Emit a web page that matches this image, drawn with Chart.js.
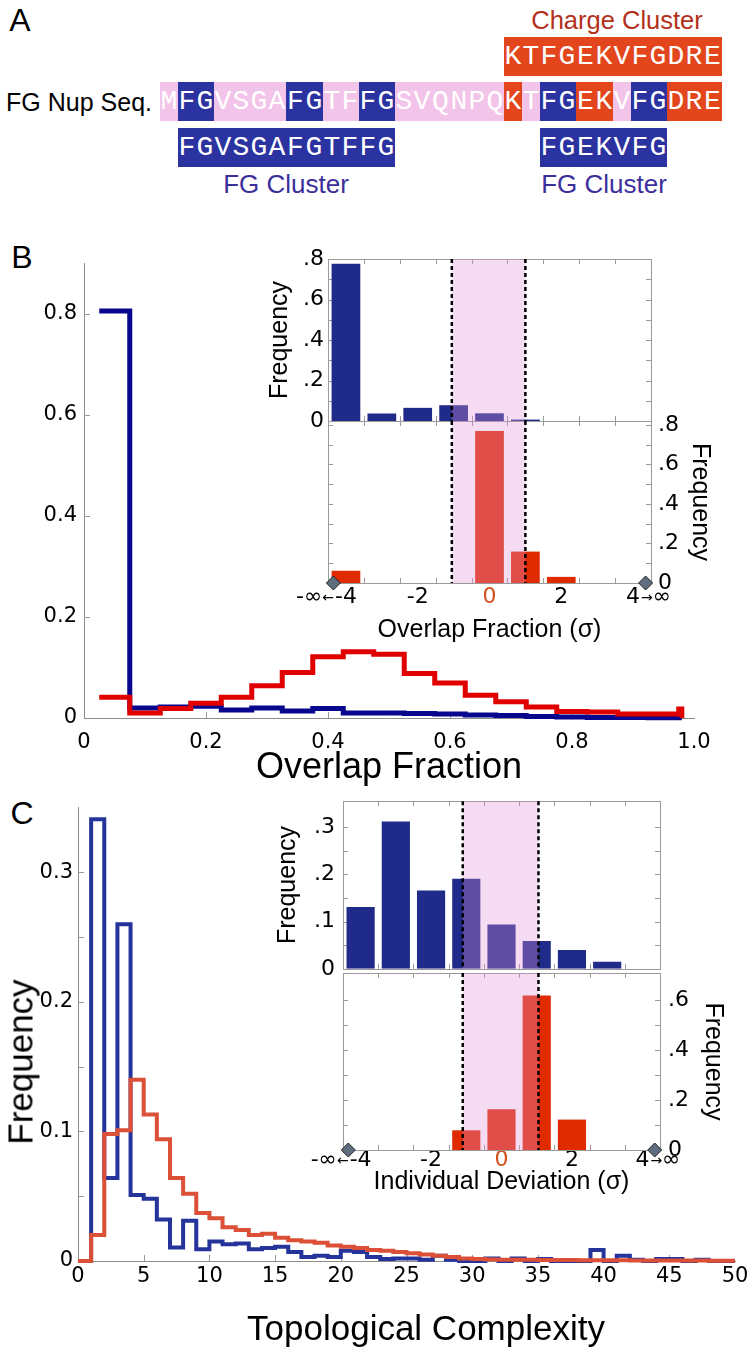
<!DOCTYPE html>
<html>
<head>
<meta charset="utf-8">
<script src="https://cdn.jsdelivr.net/npm/chart.js"></script>
<style>
  body { margin: 0; background: #fff; }
  #fig { position: relative; width: 754px; height: 1354px; overflow: hidden; background: #fff;
         font-family: "Liberation Sans", Arial, sans-serif; color: #000; }
  canvas { position: absolute; }
  .cell { position: absolute; height: 39px; line-height: 39px; color: #fff; text-align: center;
          font-family: "Liberation Mono", monospace; font-size: 28px; }
  .txt { position: absolute; white-space: nowrap; line-height: 1; }
</style>
</head>
<body>
<div id="fig"></div>
<script>
// ---------- panel A: sequence ----------
const seq = "MFGVSGAFGTFFGSVQNPQKTFGEKVFGDRE";
const seqCode = "pbbppppbbppbbppppppr" + "pbbrrpbbrrr"; // p = plain, b = FG, r = charged

// ---------- panel B: overlap fraction ----------
const overlapEdges = [0.025, 0.075, 0.125, 0.175, 0.225, 0.275, 0.325, 0.375, 0.425, 0.475, 0.525,
  0.575, 0.625, 0.675, 0.725, 0.775, 0.825, 0.875, 0.925, 0.975, 0.98];
const fgOverlap = [0.805, 0.020, 0.022, 0.023, 0.016, 0.020, 0.014, 0.019, 0.010, 0.010,
  0.009, 0.008, 0.006, 0.005, 0.003, 0.002, 0.001, 0.001, 0.0005, 0.0005];
const chargeOverlap = [0.041, 0.010, 0.019, 0.029, 0.041, 0.064, 0.090, 0.121, 0.131, 0.126,
  0.088, 0.069, 0.045, 0.032, 0.022, 0.013, 0.012, 0.008, 0.008, 0.018];
const overlapTicks = [0, 0.2, 0.4, 0.6, 0.8, 1.0];
const overlapTickLabels = ["0", "0.2", "0.4", "0.6", "0.8", "1.0"];
const freqTicksB = [0, 0.2, 0.4, 0.6, 0.8];
const freqLabelsB = ["0", "0.2", "0.4", "0.6", "0.8"];

// inset B (overlap fraction in sigma units)
const sigmaBins = [-4, -3, -2, -1, 0, 1, 2, 3, 4];
const sigmaTickLabels = ["-4", "", "-2", "", "0", "", "2", "", "4"];
const sigmaEdgeMarks = [-3.5, -2.5, -1.5, -0.5, 0.5, 1.5, 2.5, 3.5];
const diamondX = [-4.35, 4.35];
const fgOverlapSigma = [0.777, 0.037, 0.065, 0.078, 0.038, 0.007, 0, 0, 0];
const chargeOverlapSigma = [0.062, 0, 0, 0, 0.77, 0.159, 0.031, 0, 0];
const overlapBand = [-1.05, 1.0];
const insetTicks08 = [0, 0.2, 0.4, 0.6, 0.8];
const insetLabels08 = ["0", ".2", ".4", ".6", ".8"];
const insetMarks08 = [0.1, 0.2, 0.3, 0.4, 0.5, 0.6, 0.7, 0.8];

// ---------- panel C: topological complexity ----------
const complexityEdges = Array.from({ length: 51 }, (_, i) => i);
const fgComplexity = [0, 0.341, 0.064, 0.260, 0.051, 0.048, 0.032, 0.0105, 0.031, 0.009,
  0.015, 0.013, 0.0135, 0.009, 0.010, 0.011, 0.007, 0.003, 0.004, 0.003,
  0.008, 0.007, 0.003, 0.0015, 0.002, 0.002, 0.001, 0.004, 0.001, 0,
  0, 0.002, 0, 0.002, 0, 0.0015, 0, 0, 0, 0.0085,
  0, 0.004, 0.001, 0, 0.0015, 0.0015, 0, 0.001, 0, 0];
const chargeComplexity = [0, 0.020, 0.098, 0.101, 0.140, 0.113, 0.094, 0.064, 0.052, 0.037,
  0.033, 0.026, 0.024, 0.020, 0.021, 0.018, 0.016, 0.015, 0.014, 0.012,
  0.011, 0.010, 0.0085, 0.008, 0.007, 0.006, 0.005, 0.004, 0.003, 0.002,
  0.0015, 0.0012, 0.001, 0.001, 0.0009, 0.0008, 0.0008, 0.0007, 0.0006, 0.0006,
  0.0005, 0.0005, 0.0004, 0.0004, 0.0004, 0.0003, 0.0003, 0.0003, 0.0002, 0.0002];
const complexityTicks = [0, 5, 10, 15, 20, 25, 30, 35, 40, 45, 50];
const complexityTickLabels = ["0", "5", "10", "15", "20", "25", "30", "35", "40", "45", "50"];
const freqTicksC = [0, 0.1, 0.2, 0.3];
const freqLabelsC = ["0", "0.1", "0.2", "0.3"];
const freqMarksC = [0.05, 0.1, 0.15, 0.2, 0.25, 0.3];

// inset C (individual deviation in sigma units)
const fgDeviation = [0.131, 0.312, 0.166, 0.191, 0.094, 0.059, 0.040, 0.015, 0];
const chargeDeviation = [0, 0, 0, 0.079, 0.163, 0.62, 0.122, 0, 0];
const deviationBand = [-1.1, 1.05];
const insetTicks03 = [0, 0.1, 0.2, 0.3];
const insetLabels03 = ["0", ".1", ".2", ".3"];
const insetMarks03 = [0.05, 0.1, 0.15, 0.2, 0.25, 0.3];
const insetTicks06 = [0, 0.2, 0.4, 0.6];
const insetLabels06 = ["0", ".2", ".4", ".6"];
const insetMarks06 = [0.1, 0.2, 0.3, 0.4, 0.5, 0.6];

// colours
const navy = "#1f2a89";
const insetRed = "#e02a00";
const pink = "rgba(227,149,218,0.33)";
const codeColor = { p: "#f3c4ea", b: "#2b33a0", r: "#e3461d" };
const tickFamily = '"DejaVu Sans", Verdana, sans-serif';

const fig = document.getElementById("fig");

// ---------- HTML bits ----------
function label(text, cx, cy, size, color, opts = {}) {
  const d = document.createElement("div");
  d.className = "txt";
  d.textContent = text;
  d.style.left = cx + "px";
  d.style.top = cy + "px";
  d.style.fontSize = size + "px";
  d.style.color = color || "#000";
  const tx = opts.anchor === "right" ? "-100%" : "-50%";
  d.style.transform = `translate(${tx},-50%)` + (opts.rot ? ` rotate(${opts.rot}deg)` : "");
  fig.appendChild(d);
}

const seqLeft = 159.5, seqPitch = 18.13;
const cellX = i => Math.round(seqLeft + i * seqPitch);
function letterRow(from, to, top, fill) {
  for (let i = from; i <= to; i++) {
    const d = document.createElement("div");
    d.className = "cell";
    d.textContent = seq[i];
    d.style.left = cellX(i) + "px";
    d.style.width = cellX(i + 1) - cellX(i) + "px";
    d.style.top = top + "px";
    d.style.background = fill(i);
    fig.appendChild(d);
  }
}
letterRow(19, 30, 37, () => codeColor.r);
letterRow(0, 30, 82, i => codeColor[seqCode[i]]);
letterRow(1, 12, 128, () => codeColor.b);
letterRow(21, 27, 128, () => codeColor.b);

label("A", 20, 20, 32);
label("Charge Cluster", 617, 21, 25.5, "#b3301b");
label("FG Nup Seq.", 152, 102, 25, "#000", { anchor: "right" });
label("FG Cluster", 286, 184, 26, "#3c2f9d");
label("FG Cluster", 604, 184, 26, "#3c2f9d");
label("B", 22, 257, 32);
label("C", 22, 813, 32);

// ---------- chart helpers ----------
Chart.defaults.font.family = '"Liberation Sans", Arial, sans-serif';
Chart.defaults.color = "#000";

function canvasAt(left, top, w, h) {
  const c = document.createElement("canvas");
  c.width = w; c.height = h;
  c.style.left = left + "px"; c.style.top = top + "px";
  c.style.width = w + "px"; c.style.height = h + "px";
  fig.appendChild(c);
  return c;
}
const setTicks = vals => s => { s.ticks = vals.map(v => ({ value: v })); };
const fixWidth = w => s => { s.width = w; };
const fixHeight = h => s => { s.height = h; };
const noPlugins = { legend: { display: false }, tooltip: { enabled: false } };

function stairs(edges, values, color, width, close) {
  const pts = values.map((v, i) => ({ x: edges[i], y: v }));
  pts.push({ x: edges[values.length], y: values[values.length - 1] });
  if (close) pts.push({ x: edges[values.length], y: 0 });
  return { data: pts, borderColor: color, borderWidth: width, stepped: true, pointRadius: 0,
    fill: false, clip: false, borderJoinStyle: "miter", borderCapStyle: "butt" };
}

// frame, inward ticks, pink band, dashed lines, infinity labels
function decor(cfg) {
  const len = cfg.len || 5;
  return {
    id: "decor",
    beforeDatasetsDraw(chart) {
      const { ctx, chartArea: a } = chart, x = chart.scales.x, y = chart.scales.y;
      ctx.save();
      ctx.strokeStyle = "#9a9a9a";
      ctx.lineWidth = 1;
      ctx.beginPath();
      (cfg.xMarks || []).forEach(v => {
        const px = Math.round(x.getPixelForValue(v)) + 0.5;
        ctx.moveTo(px, a.bottom); ctx.lineTo(px, a.bottom - len);
        if (cfg.frame) { ctx.moveTo(px, a.top); ctx.lineTo(px, a.top + len); }
      });
      (cfg.yMarks || []).forEach(v => {
        const py = Math.round(y.getPixelForValue(v)) + 0.5;
        ctx.moveTo(a.left, py); ctx.lineTo(a.left + len, py);
        if (cfg.frame) { ctx.moveTo(a.right, py); ctx.lineTo(a.right - len, py); }
      });
      ctx.stroke();
      if (cfg.frame) {
        ctx.strokeRect(Math.round(a.left) + 0.5, Math.round(a.top) + 0.5,
          Math.round(a.right - a.left), Math.round(a.bottom - a.top));
      }
      ctx.restore();
    },
    afterDatasetsDraw(chart) {
      const { ctx, chartArea: a } = chart, x = chart.scales.x;
      ctx.save();
      if (cfg.band) {
        const x0 = x.getPixelForValue(cfg.band[0]), x1 = x.getPixelForValue(cfg.band[1]);
        ctx.fillStyle = pink;
        ctx.fillRect(x0, a.top, x1 - x0, a.bottom - a.top);
        ctx.strokeStyle = "#000";
        ctx.lineWidth = 2.5;
        ctx.setLineDash([4, 3]);
        [x0, x1].forEach(px => {
          ctx.beginPath(); ctx.moveTo(px, a.top); ctx.lineTo(px, a.bottom); ctx.stroke();
        });
        ctx.setLineDash([]);
      }
      if (cfg.inf) {
        const items = x.getLabelItems();
        const lo = items.find(it => it.label === "-4"), hi = items.find(it => it.label === "4");
        const big = "22px " + tickFamily, small = "14px " + tickFamily;
        ctx.fillStyle = "#000";
        if (lo) {
          ctx.textBaseline = lo.options.textBaseline;
          const ty = lo.options.translation[1] + lo.textOffset;
          ctx.font = big;
          let xr = lo.options.translation[0] - ctx.measureText("-4").width / 2 - 1;
          ctx.font = small; ctx.textAlign = "right";
          ctx.fillText("\u2190", xr, ty + 1);
          xr -= ctx.measureText("\u2190").width;
          ctx.font = big;
          ctx.fillText("-\u221e", xr, ty);
        }
        if (hi) {
          ctx.textBaseline = hi.options.textBaseline;
          const ty = hi.options.translation[1] + hi.textOffset;
          ctx.font = big;
          let xl = hi.options.translation[0] + ctx.measureText("4").width / 2 + 1;
          ctx.font = small; ctx.textAlign = "left";
          ctx.fillText("\u2192", xl, ty + 1);
          xl += ctx.measureText("\u2192").width;
          ctx.font = big;
          ctx.fillText("\u221e", xl, ty);
        }
      }
      ctx.restore();
    }
  };
}

function mainChart(o) {
  return new Chart(canvasAt(o.left, o.top, o.w, o.h), {
    type: "line",
    data: { datasets: o.datasets },
    options: {
      responsive: false, animation: false, devicePixelRatio: 1,
      layout: { padding: o.pad },
      plugins: noPlugins,
      scales: {
        x: {
          type: "linear", min: o.xMin, max: o.xMax,
          grid: { display: false, drawTicks: false },
          border: { color: "#8c8c8c" },
          afterBuildTicks: setTicks(o.xTicks),
          ticks: { padding: o.xPad, font: { size: 21, family: tickFamily }, maxRotation: 0, autoSkip: false,
            callback: (v, i) => o.xLabels[i] },
          title: { display: !!o.xTitle, text: o.xTitle, font: { size: 36 }, padding: { top: 0, bottom: o.xTitlePad || 0 } },
          afterFit: fixHeight(o.xHeight)
        },
        y: {
          min: 0, max: o.yMax,
          grid: { display: false, drawTicks: false },
          border: { color: "#8c8c8c" },
          afterBuildTicks: setTicks(o.yTicks),
          ticks: { padding: o.yPad, font: { size: 21, family: tickFamily }, callback: (v, i) => o.yLabels[i] },
          afterFit: fixWidth(o.yWidth)
        }
      }
    },
    plugins: [decor({ xMarks: o.xMarks, yMarks: o.yMarks, len: 6 })]
  });
}

function topInset(o) {
  return new Chart(canvasAt(o.left, o.top, o.w, o.h), {
    type: "bar",
    data: { datasets: [{ data: sigmaBins.map((x, i) => ({ x, y: o.values[i] })), backgroundColor: navy,
      barPercentage: 1, categoryPercentage: 0.8, borderWidth: 0 }] },
    options: {
      responsive: false, animation: false, devicePixelRatio: 1,
      layout: { padding: o.pad },
      plugins: noPlugins,
      scales: {
        x: {
          type: "linear", min: -4.5, max: 4.5, offset: false,
          grid: { display: false, drawTicks: false }, border: { display: false },
          ticks: { display: false },
          afterBuildTicks: setTicks(sigmaBins),
          afterFit: fixHeight(0)
        },
        y: {
          min: 0, max: o.yMax,
          grid: { display: false, drawTicks: false }, border: { display: false },
          afterBuildTicks: setTicks(o.yTicks),
          ticks: { padding: o.yPad, font: { size: 22, family: tickFamily }, callback: (v, i) => o.yLabels[i] },
          title: { display: true, text: "Frequency", font: { size: 25 }, padding: { top: o.titlePad, bottom: 0 } },
          afterFit: fixWidth(o.yWidth)
        }
      }
    },
    plugins: [decor({ frame: true, xMarks: sigmaEdgeMarks, yMarks: o.yMarks, band: o.band })]
  });
}

function bottomInset(o) {
  return new Chart(canvasAt(o.left, o.top, o.w, o.h), {
    type: "bar",
    data: { datasets: [
      { type: "scatter", data: diamondX.map(x => ({ x, y: 0 })), pointStyle: "rectRot", pointRadius: 7,
        backgroundColor: "#5f6e7e", borderColor: "#222", borderWidth: 1, clip: false },
      { data: sigmaBins.map((x, i) => ({ x, y: o.values[i] })), backgroundColor: insetRed,
        barPercentage: 1, categoryPercentage: 0.8, borderWidth: 0 }
    ] },
    options: {
      responsive: false, animation: false, devicePixelRatio: 1,
      layout: { padding: o.pad },
      plugins: noPlugins,
      scales: {
        x: {
          type: "linear", min: -4.5, max: 4.5, offset: false,
          grid: { display: false, drawTicks: false }, border: { display: false },
          afterBuildTicks: setTicks(sigmaBins),
          ticks: { padding: o.xPad, font: { size: 22, family: tickFamily }, maxRotation: 0, autoSkip: false,
            callback: (v, i) => sigmaTickLabels[i],
            color: c => (c.tick && c.tick.value === 0 ? "#d4501e" : "#000") },
          title: { display: true, text: o.xTitle, font: { size: 25 }, padding: { top: 0, bottom: o.xTitlePad } },
          afterFit: fixHeight(o.xHeight)
        },
        y: {
          position: "right", min: 0, max: o.yMax,
          grid: { display: false, drawTicks: false }, border: { display: false },
          afterBuildTicks: setTicks(o.yTicks),
          ticks: { padding: o.yPad, font: { size: 22, family: tickFamily }, callback: (v, i) => o.yLabels[i] },
          title: { display: true, text: "Frequency", font: { size: 25 }, padding: { top: o.titlePad, bottom: 0 } },
          afterFit: fixWidth(o.yWidth)
        }
      }
    },
    plugins: [decor({ frame: true, xMarks: sigmaEdgeMarks, yMarks: o.yMarks, band: o.band, inf: true })]
  });
}

// ---------- panel B ----------
mainChart({
  left: 0, top: 240, w: 754, h: 560,
  pad: { left: 0, top: 23, right: 60, bottom: 0 },
  datasets: [
    stairs(overlapEdges, chargeOverlap, "#e00000", 5, true),
    stairs(overlapEdges, fgOverlap, "#07078e", 5, false)
  ],
  xMin: 0, xMax: 1, xTicks: overlapTicks, xLabels: overlapTickLabels, xPad: 12,
  xTitle: "Overlap Fraction", xTitlePad: 10, xHeight: 82, xMarks: overlapTicks.slice(1, 5),
  yMax: 0.9, yTicks: freqTicksB, yLabels: freqLabelsB, yPad: 7, yWidth: 84, yMarks: freqTicksB.slice(1)
});
topInset({
  left: 250, top: 240, w: 420, h: 200,
  pad: { left: 0, top: 19, right: 19, bottom: 19 },
  values: fgOverlapSigma, yMax: 0.8, yTicks: insetTicks08, yLabels: insetLabels08,
  yMarks: insetMarks08, yPad: 4, yWidth: 78, titlePad: 15, band: overlapBand
});
bottomInset({
  left: 250, top: 400, w: 480, h: 250,
  pad: { left: 78, top: 21, right: 0, bottom: 0 },
  values: chargeOverlapSigma, yMax: 0.82, yTicks: insetTicks08, yLabels: insetLabels08,
  yMarks: insetMarks08, yPad: 7, yWidth: 79, titlePad: 15,
  xPad: 1, xTitle: "Overlap Fraction (\u03c3)", xTitlePad: 5, xHeight: 67, band: overlapBand
});

// ---------- panel C ----------
mainChart({
  left: -10, top: 790, w: 764, h: 564,
  pad: { left: 0, top: 15, right: 19, bottom: 0 },
  datasets: [
    stairs(complexityEdges, chargeComplexity, "#dc5038", 4, false),
    stairs(complexityEdges, fgComplexity, "#24349a", 4, false)
  ],
  xMin: 0, xMax: 50, xTicks: complexityTicks, xLabels: complexityTickLabels, xPad: 3,
  xTitle: "", xHeight: 93, xMarks: complexityTicks.slice(1, 10),
  yMax: 0.35, yTicks: freqTicksC, yLabels: freqLabelsC, yPad: 5, yWidth: 88, yMarks: freqMarksC
});
label("Frequency", 20, 1062, 35, "#000", { rot: -90 });
label("Topological Complexity", 426, 1327, 35);

topInset({
  left: 260, top: 780, w: 420, h: 210,
  pad: { left: 0, top: 20, right: 20, bottom: 17 },
  values: fgDeviation, yMax: 0.355, yTicks: insetTicks03, yLabels: insetLabels03,
  yMarks: insetMarks03, yPad: 8, yWidth: 83, titlePad: 13, band: deviationBand
});
bottomInset({
  left: 260, top: 950, w: 480, h: 260,
  pad: { left: 83, top: 23, right: 0, bottom: 0 },
  values: chargeDeviation, yMax: 0.71, yTicks: insetTicks06, yLabels: insetLabels06,
  yMarks: insetMarks06, yPad: 8, yWidth: 80, titlePad: 12,
  xPad: -3, xTitle: "Individual Deviation (\u03c3)", xTitlePad: 13, xHeight: 60, band: deviationBand
});
</script>
</body>
</html>
